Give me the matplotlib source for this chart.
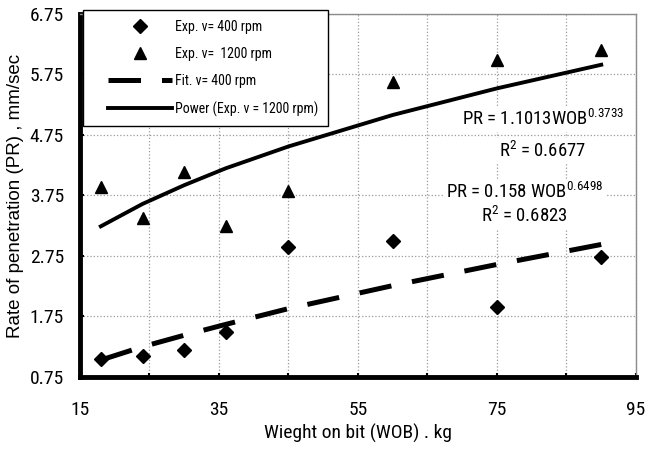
import matplotlib
matplotlib.use("Agg")
import matplotlib.pyplot as plt
from matplotlib.lines import Line2D
from matplotlib.legend_handler import HandlerLine2D
from matplotlib.ticker import FixedLocator

wob = [18, 24, 30, 36, 45, 60, 75, 90]
pr_400 = [1.05, 1.09, 1.19, 1.50, 2.90, 3.00, 1.90, 2.74]
pr_1200 = [3.89, 3.38, 4.13, 3.25, 3.83, 5.63, 5.99, 6.15]

fit_400 = [1.03, 1.25, 1.44, 1.62, 1.88, 2.26, 2.61, 2.94]
fit_1200 = [3.24, 3.61, 3.92, 4.20, 4.56, 5.08, 5.52, 5.91]

x_ticks = [15, 35, 55, 75, 95]
x_minor = [25, 45, 65, 85]
y_ticks = [0.75, 1.75, 2.75, 3.75, 4.75, 5.75, 6.75]
y_labels = ['0.75', '1.75', '2.75', '3.75', '4.75', '5.75', '6.75']

plt.rcParams['font.family'] = ['Roboto Condensed', 'DejaVu Sans']
plt.rcParams['mathtext.fontset'] = 'custom'
plt.rcParams['mathtext.rm'] = 'Roboto Condensed'
plt.rcParams['mathtext.it'] = 'Roboto Condensed'
plt.rcParams['mathtext.bf'] = 'Roboto Condensed'


class ShiftedLineHandler(HandlerLine2D):
    # legend handle that leaves some empty room on its left side
    def __init__(self, shift, **kw):
        super().__init__(**kw)
        self.shift = shift

    def get_xdata(self, legend, xdescent, ydescent, width, height, fontsize):
        start = -xdescent + self.shift * fontsize
        end = -xdescent + width
        return [start, end], [0.5 * (start + end)]


fig = plt.figure(figsize=(6.45, 4.51), dpi=100)
ax = fig.add_axes([0.124, 0.1641, 0.862, 0.805])

ax.plot(wob, pr_400, linestyle='none', marker='D', markersize=7,
        color='black', label='Exp. v= 400 rpm', zorder=5)
ax.plot(wob, pr_1200, linestyle='none', marker='^', markersize=9,
        color='black', label='Exp. v=  1200 rpm', zorder=5)
ax.plot(wob, fit_400, color='black', linewidth=3.6, dashes=(6.5, 4.2),
        solid_capstyle='butt', dash_capstyle='butt',
        label='Fit. v= 400 rpm', zorder=4)
ax.plot(wob, fit_1200, color='black', linewidth=2.8,
        label='Power (Exp. v = 1200 rpm)', zorder=4)

ax.set_xlim(15, 95)
ax.set_ylim(0.75, 6.75)
ax.xaxis.set_major_locator(FixedLocator(x_ticks))
ax.xaxis.set_minor_locator(FixedLocator(x_minor))
ax.yaxis.set_major_locator(FixedLocator(y_ticks))
ax.set_yticklabels(y_labels)

ax.grid(True, which='both', color='#9a9a9a', linestyle=':', linewidth=0.9)
ax.set_axisbelow(True)

for side in ['left', 'bottom']:
    ax.spines[side].set_linewidth(3.5)
    ax.spines[side].set_color('black')
for side in ['top', 'right']:
    ax.spines[side].set_linewidth(1.0)
    ax.spines[side].set_color('#8c8c8c')

ax.tick_params(axis='x', which='both', length=3, width=1.5, direction='in',
               pad=17, labelsize=14)
ax.tick_params(axis='y', which='both', length=3, width=1.5, direction='in',
               pad=11.5, labelsize=14)

ax.set_xlabel('Wieght on bit (WOB) . kg', fontsize=14, labelpad=4)
ax.set_ylabel('Rate of penetration (PR) , mm/sec', fontsize=13.5,
              family=['Liberation Sans', 'DejaVu Sans'], labelpad=4)

leg = ax.legend(loc='upper left', bbox_to_anchor=(0.005, 1.011), fontsize=10,
                frameon=True, fancybox=False, shadow=False, borderpad=0.7,
                labelspacing=0.95, handlelength=5.75, handletextpad=0.2,
                borderaxespad=0.0,
                handler_map={Line2D: ShiftedLineHandler(1.15)})
leg.get_frame().set_edgecolor('black')
leg.get_frame().set_linewidth(1.0)
leg.get_frame().set_alpha(1.0)

box = dict(facecolor='white', edgecolor='none', pad=2)
ax.text(0.832, 0.694, r'PR = 1.1013WOB$^{0.3733}$', transform=ax.transAxes,
        ha='center', va='baseline', fontsize=13.5, bbox=box, zorder=3)
ax.text(0.832, 0.606, r'R$^{2}$ = 0.6677', transform=ax.transAxes,
        ha='center', va='baseline', fontsize=13.5, bbox=box, zorder=3)
ax.text(0.799, 0.493, r'PR = 0.158 WOB$^{0.6498}$', transform=ax.transAxes,
        ha='center', va='baseline', fontsize=13.5, bbox=box, zorder=3)
ax.text(0.799, 0.427, r'R$^{2}$ = 0.6823', transform=ax.transAxes,
        ha='center', va='baseline', fontsize=13.5, bbox=box, zorder=3)

fig.savefig('out.png', dpi=100)
